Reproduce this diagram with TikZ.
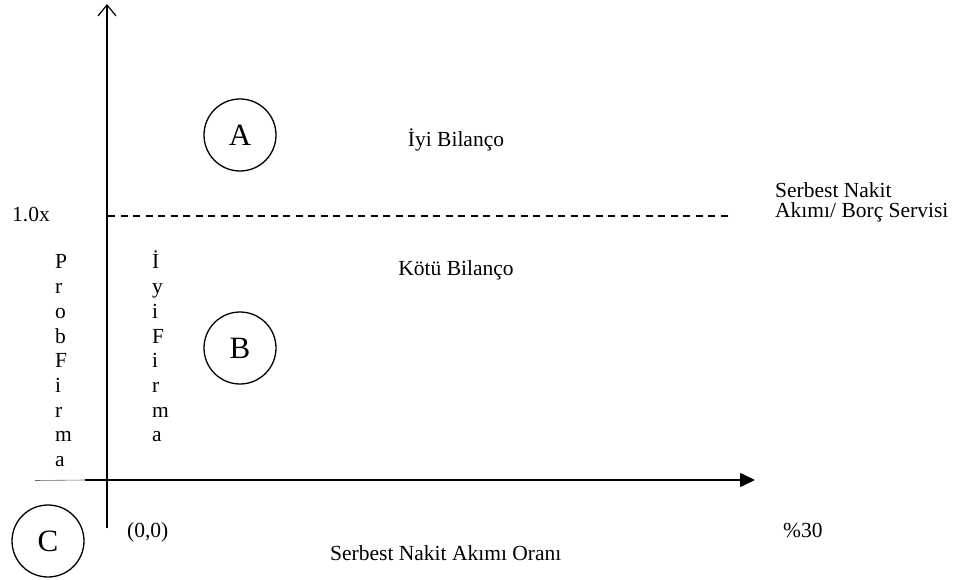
\documentclass[tikz,border=0pt]{standalone}
\usepackage{fontspec}
\setmainfont{Liberation Serif}
\usetikzlibrary{arrows.meta}
\begin{document}
\begin{tikzpicture}[x=1pt,y=-1pt,
  lbl/.style={font=\fontsize{21.5}{24.7}\selectfont, inner sep=0pt, anchor=base west},
  circ/.style={circle, draw, line width=1.3pt, minimum size=72pt, inner sep=0pt, font=\fontsize{31}{31}\selectfont},
  axisline/.style={line width=1.6pt},
  dashline/.style={line width=1.2pt, dash pattern=on 7pt off 5.5pt}]
\useasboundingbox (0,0) rectangle (953,580);
% axes
\coordinate (ytop) at (107,4);
\coordinate (ybot) at (107,528);
\coordinate (xleft) at (85,480);
\coordinate (xright) at (755,480);
\coordinate (thinleft) at (35,480.5);
\coordinate (dl) at (108,216);
\coordinate (dr) at (733,216);
\draw[axisline, -{Straight Barb[length=11pt,width=18pt,line width=1.2pt]}] (ybot) -- (ytop);
\draw[axisline, -{Triangle[length=15pt,width=14pt]}] (xleft) -- (xright);
\draw[line width=0.6pt, black!60] (thinleft) -- (xleft);
\draw[dashline] (dl) -- (dr);
% circles
\node[circ] (A) at (240,135) {A};
\node[circ] (B) at (240,348) {B};
\node[circ] (C) at (48,541) {C};
% labels
\node[lbl, anchor=base] (iyi) at (456,147) {İyi Bilanço};
\node[lbl, anchor=base] (kotu) at (456,275) {Kötü Bilanço};
\node[lbl] (onex) at (12,222) {1.0x};
\node[lbl] (sn1) at (775,198) {Serbest Nakit};
\node[lbl] (sn2) at (775,218) {Akımı/ Borç Servisi};
\node[lbl] (orig) at (127,537) {(0,0)};
\node[lbl] (p30) at (783,537) {\%30};
\node[lbl] (xl) at (330,560) {Serbest Nakit Akımı Oranı};
% vertical words
\foreach \ch [count=\i from 0] in {P,r,o,b,F,i,r,m,a}
  \node[lbl] (pf\i) at ({55},{269+24.7*\i}) {\ch};
\foreach \ch [count=\i from 0] in {İ,y,i,F,i,r,m,a}
  \node[lbl] (if\i) at ({152},{269+24.7*\i}) {\ch};
\end{tikzpicture}
\end{document}
